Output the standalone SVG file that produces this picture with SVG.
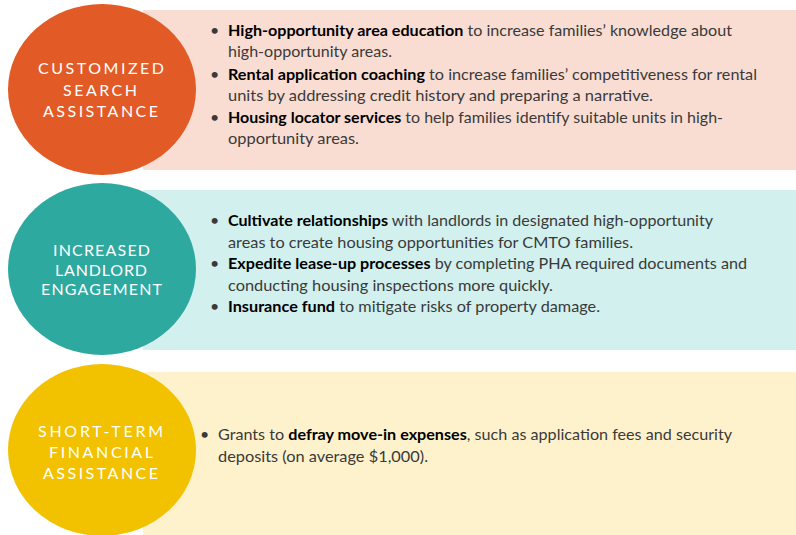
<svg xmlns="http://www.w3.org/2000/svg" width="796" height="535" viewBox="0 0 796 535">
<style>
.lbl{font-family:Lato,"Open Sans","Liberation Sans",sans-serif;font-size:16px;fill:#ffffff;text-anchor:middle}
.body{font-family:Lato,"Open Sans","Liberation Sans",sans-serif;font-size:16px;fill:#3a3a3a}
.b{font-weight:bold;fill:#000000}
</style>
<rect width="796" height="535" fill="#ffffff"/>
<g id="search">
<rect x="143" y="10" width="653" height="160" fill="#F9DDD3"/>
<ellipse cx="102" cy="89.5" rx="94" ry="85.5" fill="#E25B26"/>
<text class="lbl" x="101" y="74" textLength="126" lengthAdjust="spacing">CUSTOMIZED</text>
<text class="lbl" x="100" y="96" textLength="74" lengthAdjust="spacing">SEARCH</text>
<text class="lbl" x="100.5" y="117" textLength="115" lengthAdjust="spacing">ASSISTANCE</text>
<text class="body" x="210" y="36">•</text>
<text class="body" x="228" y="36" textLength="504" lengthAdjust="spacingAndGlyphs"><tspan class="b">High-opportunity area education</tspan> to increase families’ knowledge about</text>
<text class="body" x="228" y="57" textLength="164" lengthAdjust="spacingAndGlyphs">high-opportunity areas.</text>
<text class="body" x="210" y="80">•</text>
<text class="body" x="228" y="80" textLength="529" lengthAdjust="spacingAndGlyphs"><tspan class="b">Rental application coaching</tspan> to increase families’ competitiveness for rental</text>
<text class="body" x="228" y="101" textLength="425" lengthAdjust="spacingAndGlyphs">units by addressing credit history and preparing a narrative.</text>
<text class="body" x="210" y="123">•</text>
<text class="body" x="228" y="123" textLength="495" lengthAdjust="spacingAndGlyphs"><tspan class="b">Housing locator services</tspan> to help families identify suitable units in high-</text>
<text class="body" x="228" y="144" textLength="131" lengthAdjust="spacingAndGlyphs">opportunity areas.</text>
</g>
<g id="landlord">
<rect x="143" y="190" width="653" height="160" fill="#D1F0EE"/>
<ellipse cx="102" cy="269" rx="94" ry="86" fill="#2EA99F"/>
<text class="lbl" x="101.5" y="256" textLength="97" lengthAdjust="spacing">INCREASED</text>
<text class="lbl" x="101" y="276" textLength="92" lengthAdjust="spacing">LANDLORD</text>
<text class="lbl" x="101.5" y="295" textLength="121" lengthAdjust="spacing">ENGAGEMENT</text>
<text class="body" x="210" y="226">•</text>
<text class="body" x="228" y="226" textLength="485" lengthAdjust="spacingAndGlyphs"><tspan class="b">Cultivate relationships</tspan> with landlords in designated high-opportunity</text>
<text class="body" x="228" y="248" textLength="405" lengthAdjust="spacingAndGlyphs">areas to create housing opportunities for CMTO families.</text>
<text class="body" x="210" y="269">•</text>
<text class="body" x="228" y="269" textLength="519" lengthAdjust="spacingAndGlyphs"><tspan class="b">Expedite lease-up processes</tspan> by completing PHA required documents and</text>
<text class="body" x="228" y="291" textLength="325" lengthAdjust="spacingAndGlyphs">conducting housing inspections more quickly.</text>
<text class="body" x="210" y="312">•</text>
<text class="body" x="228" y="312" textLength="372" lengthAdjust="spacingAndGlyphs"><tspan class="b">Insurance fund</tspan> to mitigate risks of property damage.</text>
</g>
<g id="financial">
<rect x="143" y="372" width="653" height="163" fill="#FEF2CC"/>
<ellipse cx="102" cy="450" rx="94" ry="86" fill="#F2C200"/>
<text class="lbl" x="100.5" y="437" textLength="125" lengthAdjust="spacing">SHORT-TERM</text>
<text class="lbl" x="101" y="458" textLength="104" lengthAdjust="spacing">FINANCIAL</text>
<text class="lbl" x="100.5" y="479" textLength="115" lengthAdjust="spacing">ASSISTANCE</text>
<text class="body" x="200" y="440">•</text>
<text class="body" x="218" y="440" textLength="514" lengthAdjust="spacingAndGlyphs">Grants to <tspan class="b">defray move-in expenses</tspan>, such as application fees and security</text>
<text class="body" x="218" y="462" textLength="210" lengthAdjust="spacingAndGlyphs">deposits (on average $1,000).</text>
</g>
</svg>
